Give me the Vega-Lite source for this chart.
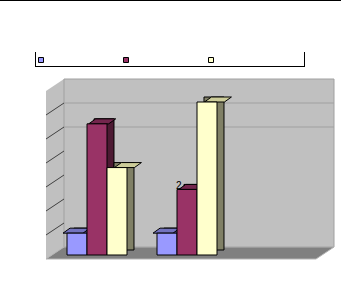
{
  "$schema": "https://vega.github.io/schema/vega-lite/v6.json",
  "width": 270,
  "height": 168,
  "autosize": {"type": "none"},
  "padding": {"left": 46, "top": 91, "right": 25, "bottom": 28},
  "background": "white",
  "config": {
    "view": {"stroke": null},
    "axisY": {"domainColor": "#808080", "tickColor": "black", "tickSize": 3, "labels": false, "grid": false, "title": null, "zindex": 1}
  },
  "datasets": {
    "bars": [
      {"cat": "1", "series": "A", "value": 1},
      {"cat": "1", "series": "B", "value": 6},
      {"cat": "1", "series": "C", "value": 4},
      {"cat": "2", "series": "A", "value": 1},
      {"cat": "2", "series": "B", "value": 3, "label": "2"},
      {"cat": "2", "series": "C", "value": 7}
    ],
    "wallticks": [{"t": 1}, {"t": 2}, {"t": 3}, {"t": 4}, {"t": 5}, {"t": 6}],
    "backgrid": [{"t": 5}, {"t": 6}],
    "one": [{}]
  },
  "layer": [
    {
      "layer": [
        {
          "data": {"name": "one"},
          "mark": {"type": "point", "shape": "M-45,0L-45,-168L-27,-180L-27,-12Z", "size": 4, "filled": true, "fill": "#C0C0C0", "strokeWidth": 0, "opacity": 1},
          "encoding": {
            "x": {"datum": "1", "type": "nominal", "scale": {"domain": ["1", "2", "3"], "paddingInner": 0, "paddingOuter": 0}, "axis": null},
            "y": {"datum": 0, "type": "quantitative", "scale": {"domain": [0, 7], "nice": false, "zero": false}, "axis": {"values": [0, 1, 2, 3, 4, 5, 6, 7]}}
          }
        },
        {
          "data": {"name": "one"},
          "mark": {"type": "point", "shape": "M-27,-12L243,-12L243,-180L-27,-180Z", "size": 4, "filled": true, "fill": "#C0C0C0", "stroke": "#A0A0A0", "strokeWidth": 1, "opacity": 1},
          "encoding": {
            "x": {"datum": "1", "type": "nominal", "scale": {"domain": ["1", "2", "3"], "paddingInner": 0, "paddingOuter": 0}, "axis": null},
            "y": {"datum": 0, "type": "quantitative", "scale": {"domain": [0, 7], "nice": false, "zero": false}, "axis": null}
          }
        },
        {
          "data": {"name": "one"},
          "mark": {"type": "point", "shape": "M-45,0L225,0L243,-12L-27,-12Z", "size": 4, "filled": true, "fill": "#808080", "stroke": "#B4B4B4", "strokeWidth": 1, "opacity": 1},
          "encoding": {
            "x": {"datum": "1", "type": "nominal", "scale": {"domain": ["1", "2", "3"], "paddingInner": 0, "paddingOuter": 0}, "axis": null},
            "y": {"datum": 0, "type": "quantitative", "scale": {"domain": [0, 7], "nice": false, "zero": false}, "axis": null}
          }
        },
        {
          "data": {"name": "backgrid"},
          "mark": {"type": "rule", "stroke": "#A0A0A0", "strokeWidth": 1, "xOffset": -27, "x2Offset": 243, "yOffset": -12},
          "encoding": {
            "x": {"datum": "1", "type": "nominal", "scale": {"domain": ["1", "2", "3"], "paddingInner": 0, "paddingOuter": 0}, "axis": null},
            "x2": {"datum": "1"},
            "y": {"field": "t", "type": "quantitative", "scale": {"domain": [0, 7], "nice": false, "zero": false}, "axis": null}
          }
        },
        {
          "data": {"name": "wallticks"},
          "mark": {"type": "rule", "stroke": "#404040", "strokeWidth": 1, "xOffset": -45, "x2Offset": -27, "y2Offset": -12},
          "encoding": {
            "x": {"datum": "1", "type": "nominal", "scale": {"domain": ["1", "2", "3"], "paddingInner": 0, "paddingOuter": 0}, "axis": null},
            "x2": {"datum": "1"},
            "y": {"field": "t", "type": "quantitative", "scale": {"domain": [0, 7], "nice": false, "zero": false}, "axis": null},
            "y2": {"field": "t"}
          }
        },
        {
          "data": {"name": "one"},
          "mark": {"type": "rule", "stroke": "black", "strokeWidth": 1, "xOffset": -55.5},
          "encoding": {
            "x": {"datum": "1", "type": "nominal", "scale": {"domain": ["1", "2", "3"], "paddingInner": 0, "paddingOuter": 0}, "axis": null},
            "y": {"datum": 8, "type": "quantitative", "scale": {"domain": [0, 7], "nice": false, "zero": false}, "axis": null},
            "y2": {"datum": 8.625}
          }
        },
        {
          "data": {"name": "one"},
          "mark": {"type": "rule", "stroke": "black", "strokeWidth": 1, "xOffset": 213.5},
          "encoding": {
            "x": {"datum": "1", "type": "nominal", "scale": {"domain": ["1", "2", "3"], "paddingInner": 0, "paddingOuter": 0}, "axis": null},
            "y": {"datum": 8, "type": "quantitative", "scale": {"domain": [0, 7], "nice": false, "zero": false}, "axis": null},
            "y2": {"datum": 8.625}
          }
        },
        {
          "data": {"name": "one"},
          "mark": {"type": "rule", "stroke": "black", "strokeWidth": 1, "xOffset": -55.5, "x2Offset": 213.5, "yOffset": -0.5},
          "encoding": {
            "x": {"datum": "1", "type": "nominal", "scale": {"domain": ["1", "2", "3"], "paddingInner": 0, "paddingOuter": 0}, "axis": null},
            "x2": {"datum": "1"},
            "y": {"datum": 8, "type": "quantitative", "scale": {"domain": [0, 7], "nice": false, "zero": false}, "axis": null}
          }
        },
        {
          "data": {"name": "one"},
          "mark": {"type": "rule", "stroke": "black", "strokeWidth": 2, "xOffset": -91, "x2Offset": 250},
          "encoding": {
            "x": {"datum": "1", "type": "nominal", "scale": {"domain": ["1", "2", "3"], "paddingInner": 0, "paddingOuter": 0}, "axis": null},
            "x2": {"datum": "1"},
            "y": {"datum": 10.7917, "type": "quantitative", "scale": {"domain": [0, 7], "nice": false, "zero": false}, "axis": null}
          }
        }
      ]
    },
    {
      "data": {"name": "bars"},
      "encoding": {
        "x": {"field": "cat", "type": "nominal", "scale": {"domain": ["1", "2", "3"], "paddingInner": 0, "paddingOuter": 0}, "axis": null},
        "xOffset": {"field": "series", "type": "nominal", "scale": {"domain": ["A", "B", "C"], "paddingInner": 0, "paddingOuter": 0.75, "align": 0.7}},
        "y": {"field": "value", "type": "quantitative", "scale": {"domain": [0, 7.6863], "nice": false, "zero": true}, "axis": null}
      },
      "layer": [
        {
          "mark": {"type": "bar", "yOffset": -9, "y2Offset": -9, "stroke": "black", "strokeWidth": 1},
          "encoding": {
            "xOffset": {"field": "series", "type": "nominal", "scale": {"domain": ["A", "B", "C"], "paddingInner": 0, "paddingOuter": 0.75, "align": 0.9333}},
            "color": {"field": "series", "type": "nominal", "scale": {"domain": ["A", "B", "C"], "range": ["#4D4D80", "#4D1A33", "#808066"]}, "legend": null}
          }
        },
        {
          "mark": {"type": "point", "shape": "M-10,0L10,0L17,-5L-3,-5Z", "size": 4, "filled": true, "opacity": 1, "stroke": "black", "strokeWidth": 1, "yOffset": -4},
          "encoding": {
            "color": {"field": "series", "type": "nominal", "scale": {"domain": ["A", "B", "C"], "range": ["#7373BF", "#73264D", "#CCCC99"]}, "legend": null}
          }
        },
        {
          "mark": {"type": "bar", "yOffset": -4, "y2Offset": -4, "stroke": "black", "strokeWidth": 1},
          "encoding": {
            "color": {
              "field": "series", "type": "nominal",
              "scale": {"domain": ["A", "B", "C"], "range": ["#9999FF", "#993366", "#FFFFCC"]},
              "legend": {"orient": "none", "legendX": -10, "legendY": -36, "direction": "horizontal", "columns": 3, "title": null, "labelExpr": "''", "symbolType": "square", "symbolSize": 25, "symbolStrokeColor": "black", "symbolStrokeWidth": 1, "columnPadding": 75, "labelOffset": 0, "padding": 0}
            }
          }
        },
        {
          "transform": [{"filter": "datum.label"}],
          "mark": {"type": "text", "dx": -10, "yOffset": -4, "baseline": "alphabetic", "fontSize": 10, "font": "Liberation Sans", "color": "black"},
          "encoding": {"text": {"field": "label"}}
        }
      ],
      "resolve": {"scale": {"color": "independent", "xOffset": "independent"}}
    }
  ],
  "resolve": {"scale": {"y": "independent"}}
}
